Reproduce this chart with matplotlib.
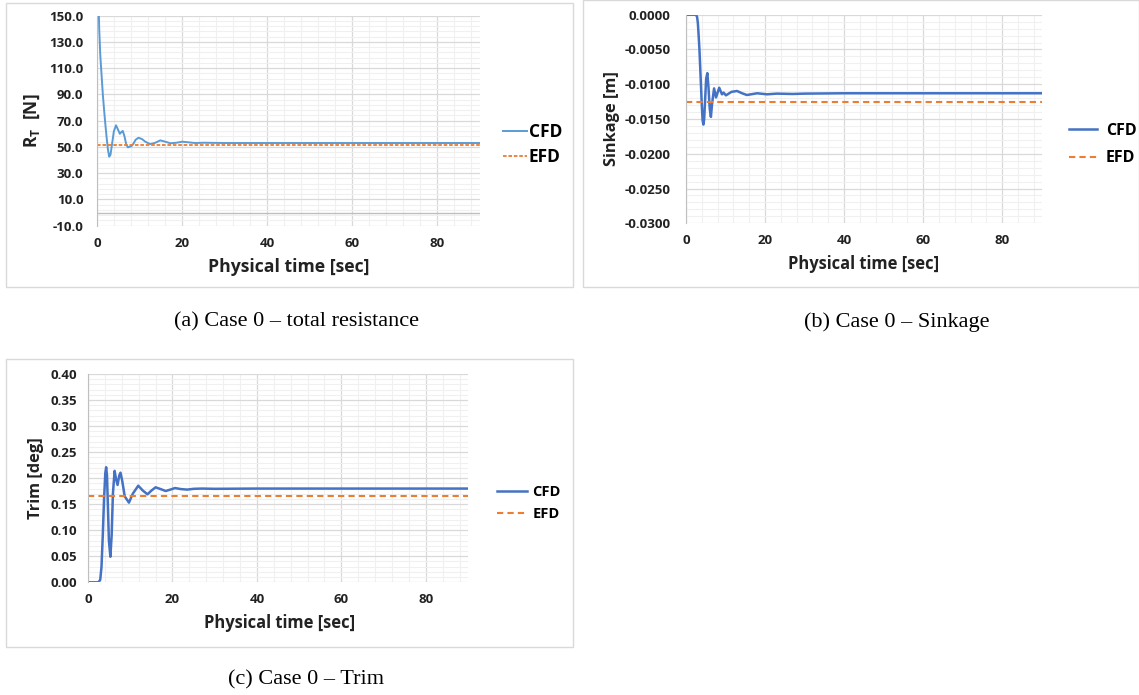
import numpy as np
import matplotlib
matplotlib.use('Agg')
import matplotlib.pyplot as plt
from matplotlib.patches import Rectangle
from matplotlib.ticker import MultipleLocator, FormatStrFormatter

# ---- data ----
time_a = [0.0, 0.3, 0.45, 0.7, 1.0, 1.3, 1.6, 1.9, 2.2, 2.5, 2.8, 3.1, 3.5, 3.9, 4.4, 4.9,
          5.3, 5.7, 6.0, 6.4, 6.8, 7.2, 7.6, 8.0, 8.5, 9.0, 9.7, 10.5, 11.3, 12.4, 13.5,
          14.8, 16.0, 17.2, 18.6, 20.0, 21.5, 23.0, 25.0, 30.0, 40.0, 50.0, 60.0, 70.0,
          80.0, 90.0]
resist_cfd = [400, 160, 140, 120, 105, 90, 78, 67, 57, 48, 42.6, 44, 53, 62, 66.5, 63,
              60, 61.5, 62.2, 58, 52, 49.7, 50.2, 50.6, 52.5, 55.5, 57, 56, 54, 52.2, 53,
              55, 54, 52.8, 53.2, 54, 53.5, 53, 53.2, 53, 53, 53, 53, 53, 53, 53]
resist_efd = 51.8

time_b = [0.0, 1.0, 2.0, 2.5, 2.8, 3.0, 3.2, 3.4, 3.7, 4.0, 4.2, 4.4, 4.6, 4.9, 5.1, 5.4,
          5.7, 6.0, 6.3, 6.6, 7.1, 7.6, 8.4, 9.1, 9.5, 10.1, 11.5, 12.9, 14.2, 15.4, 18.0,
          20.5, 23.0, 27.0, 30.0, 40.0, 50.0, 60.0, 70.0, 80.0, 90.0]
sink_cfd = [0.0, 0.0, 0.0, 0.0, -0.0003, -0.0012, -0.0030, -0.0050, -0.0090, -0.0130,
            -0.0152, -0.0158, -0.0150, -0.0115, -0.0092, -0.0084, -0.0105, -0.0135,
            -0.0147, -0.0128, -0.0106, -0.0119, -0.0105, -0.01145, -0.0112, -0.0116,
            -0.0111, -0.01097, -0.0113, -0.01155, -0.0113, -0.01145, -0.01135, -0.0114,
            -0.01135, -0.0113, -0.0113, -0.0113, -0.0113, -0.0113, -0.0113]
sink_efd = -0.0126

time_c = [0.0, 1.0, 2.0, 2.5, 2.9, 3.2, 3.5, 3.8, 4.1, 4.3, 4.5, 4.7, 4.95, 5.3, 5.6, 5.9,
          6.3, 6.6, 7.0, 7.4, 7.7, 8.1, 8.7, 9.7, 10.6, 11.9, 13.0, 14.1, 15.0, 16.0, 17.2,
          18.4, 19.5, 20.6, 22.0, 23.5, 25.0, 27.0, 30.0, 40.0, 50.0, 60.0, 70.0, 80.0, 90.0]
trim_cfd = [0.0, 0.0, 0.0, 0.0, 0.005, 0.03, 0.09, 0.16, 0.21, 0.221, 0.205, 0.15, 0.08,
            0.049, 0.09, 0.17, 0.214, 0.200, 0.187, 0.205, 0.2105, 0.195, 0.165, 0.153,
            0.170, 0.1855, 0.176, 0.169, 0.176, 0.1824, 0.179, 0.1753, 0.178, 0.181, 0.179,
            0.178, 0.1795, 0.180, 0.1795, 0.180, 0.180, 0.180, 0.180, 0.180, 0.180]
trim_efd = 0.165

x_ticks = [0, 20, 40, 60, 80]
resist_ticks = [-10, 10, 30, 50, 70, 90, 110, 130, 150]
sink_ticks = [-0.03, -0.025, -0.02, -0.015, -0.01, -0.005, 0.0]
trim_ticks = [0.0, 0.05, 0.1, 0.15, 0.2, 0.25, 0.3, 0.35, 0.4]

W, H = 1139, 695
FONT = 'Open Sans'
plt.rcParams['font.family'] = [FONT, 'DejaVu Sans']
plt.rcParams['mathtext.fontset'] = 'custom'
plt.rcParams['mathtext.bf'] = FONT + ':bold'
plt.rcParams['mathtext.rm'] = FONT + ':bold'

fig = plt.figure(figsize=(W / 100, H / 100), dpi=100)


def px_rect(l, t, r, b):
    return [l / W, 1 - b / H, (r - l) / W, (b - t) / H]


def fx(x):
    return x / W


def fy(y):
    return 1 - y / H


def frame_box(l, t, r, b):
    fig.patches.append(Rectangle((fx(l), fy(b)), fx(r - l), (b - t) / H,
                                 transform=fig.transFigure, fill=False,
                                 edgecolor='#D9D9D9', linewidth=1.0))


def setup_axes(rect, ylim, yticks, n_minor, fmt, ypad):
    ax = fig.add_axes(px_rect(*rect))
    ax.set_xlim(0, 90)
    ax.set_ylim(*ylim)
    ax.set_xticks(x_ticks)
    ax.xaxis.set_minor_locator(MultipleLocator(4))
    ax.set_yticks(yticks)
    step = (yticks[1] - yticks[0]) / n_minor
    ax.set_yticks(np.arange(yticks[0], yticks[-1] + step / 2, step), minor=True)
    ax.yaxis.set_major_formatter(FormatStrFormatter(fmt))
    ax.grid(which='major', color='#D9D9D9', linewidth=0.9)
    ax.grid(which='minor', color='#F0F0F0', linewidth=0.8)
    ax.set_axisbelow(True)
    for s in ('top', 'right', 'bottom'):
        ax.spines[s].set_visible(False)
    ax.spines['left'].set_color('#BFBFBF')
    ax.tick_params(which='both', length=0, labelsize=9.5, colors='#222222')
    ax.tick_params(axis='x', pad=8)
    ax.tick_params(axis='y', pad=ypad)
    for lbl in ax.get_xticklabels() + ax.get_yticklabels():
        lbl.set_fontweight('bold')
    return ax


def add_legend(ax, x, y, size, hlen, tpad, lspace, cfd_line, efd_line):
    ax.legend([cfd_line, efd_line], ['CFD', 'EFD'], loc='center left',
              bbox_to_anchor=(fx(x), fy(y)), bbox_transform=fig.transFigure,
              frameon=False, borderpad=0, borderaxespad=0, handlelength=hlen,
              handletextpad=tpad, labelspacing=lspace,
              prop={'family': FONT, 'weight': 'bold', 'size': size})


# ---- (a) total resistance ----
frame_box(6, 2.5, 572.5, 287)
ax_a = setup_axes((97.3, 15.7, 480, 225.7), (-10, 150), resist_ticks, 5, '%.1f', 10)
ax_a.axhline(0, color='#BFBFBF', linewidth=1.0, zorder=1)
cfd_a, = ax_a.plot(time_a, resist_cfd, color='#5B9BD5', linewidth=1.4)
efd_a = ax_a.axhline(resist_efd, color='#ED7D31', linewidth=1.3, linestyle=(0, (2, 1)))
add_legend(ax_a, 503, 144.5, 12.5, 1.4, 0.08, 0.45, cfd_a, efd_a)
fig.text(fx(32), fy(120.7), r'$\mathbf{R_T}$  [N]', rotation=90, ha='center', va='center',
         fontsize=12.5, fontweight='bold', color='#222222')
fig.text(fx(288.6), fy(266.7), 'Physical time [sec]', ha='center', va='center',
         fontsize=12.7, fontweight='bold', color='#222222')
fig.text(fx(297), fy(322), '(a) Case 0 \u2013 total resistance', ha='center', va='center',
         fontsize=16, family='Liberation Serif')

# ---- (b) sinkage ----
frame_box(583, 0.5, 1138.5, 287)
ax_b = setup_axes((686, 14.7, 1041.7, 223.3), (-0.03, 0.0), sink_ticks, 5, '%.4f', 11)
cfd_b, = ax_b.plot(time_b, sink_cfd, color='#4472C4', linewidth=1.8)
efd_b = ax_b.axhline(sink_efd, color='#ED7D31', linewidth=1.5, linestyle=(0, (3, 2)))
add_legend(ax_b, 1069, 144.5, 11.5, 1.75, 0.55, 0.75, cfd_b, efd_b)
fig.text(fx(612), fy(119), 'Sinkage [m]', rotation=90, ha='center', va='center',
         fontsize=11.8, fontweight='bold', color='#222222')
fig.text(fx(863.9), fy(264.3), 'Physical time [sec]', ha='center', va='center',
         fontsize=11.9, fontweight='bold', color='#222222')
fig.text(fx(897), fy(322), '(b) Case 0 \u2013 Sinkage', ha='center', va='center',
         fontsize=16, family='Liberation Serif')

# ---- (c) trim ----
frame_box(6, 359, 573, 647)
ax_c = setup_axes((88, 374, 468, 582.3), (0.0, 0.4), trim_ticks, 5, '%.2f', 8)
cfd_c, = ax_c.plot(time_c, trim_cfd, color='#4472C4', linewidth=1.8)
efd_c = ax_c.axhline(trim_efd, color='#ED7D31', linewidth=1.5, linestyle=(0, (3, 2)))
add_legend(ax_c, 496.7, 503, 10.5, 2.05, 0.4, 0.6, cfd_c, efd_c)
fig.text(fx(36), fy(478.2), 'Trim [deg]', rotation=90, ha='center', va='center',
         fontsize=11.8, fontweight='bold', color='#222222')
fig.text(fx(279.5), fy(623.3), 'Physical time [sec]', ha='center', va='center',
         fontsize=11.9, fontweight='bold', color='#222222')
fig.text(fx(306), fy(680), '(c) Case 0 \u2013 Trim', ha='center', va='center',
         fontsize=16, family='Liberation Serif')

fig.savefig('out.png', dpi=100, facecolor='white')
